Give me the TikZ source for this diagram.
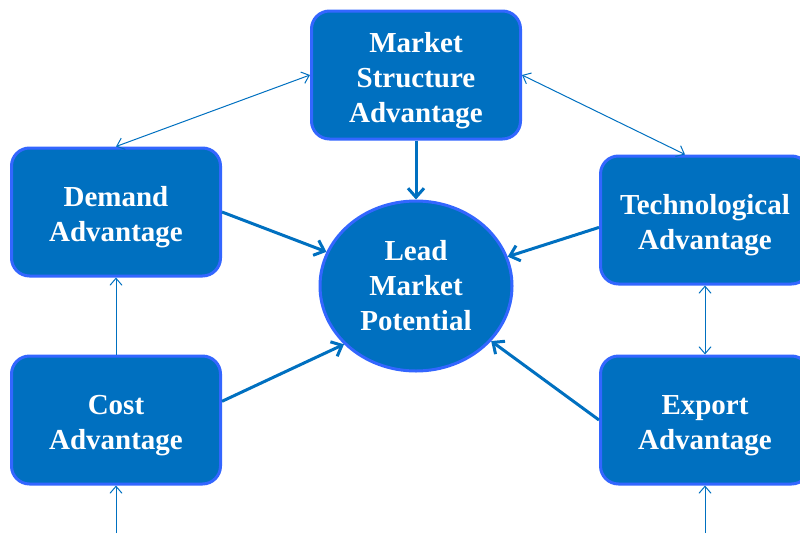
\documentclass[tikz,border=0pt]{standalone}
\usepackage{fontspec}
\setmainfont{Liberation Serif}
\usetikzlibrary{shapes.geometric, arrows.meta}

\definecolor{caja}{HTML}{0070C0}
\definecolor{borde}{HTML}{3366FF}
\newcommand{\sube}{\rule{0pt}{31pt}}

\begin{document}
\begin{tikzpicture}[x=1pt, y=-1pt,
		base/.style={draw=borde, fill=caja, line width=3pt, align=center, text=white,
			font=\fontsize{29}{35}\selectfont\bfseries},
		ventaja/.style={base, rounded corners=18pt, minimum width=209pt, minimum height=128pt},
		potencial/.style={base, ellipse, minimum width=192pt, minimum height=170pt},
		fina/.style={draw=caja, line width=1pt},
		gruesa/.style={draw=caja, line width=3pt, -{Straight Barb[length=9pt, width=16pt]}}]
		\useasboundingbox (0, 0) rectangle (800, 533);
		
		% Nodos
		\node[ventaja] (market) at (416, 75) {\sube Market\\Structure\\Advantage};
		\node[ventaja] (demand) at (116, 212) {\sube Demand\\Advantage};
		\node[ventaja] (cost) at (116, 420) {\sube Cost\\Advantage};
		\node[ventaja] (tech) at (705, 220) {\sube Technological\\Advantage};
		\node[ventaja] (export) at (705, 420) {\sube Export\\Advantage};
		\node[potencial] (lead) at (416, 286) {Lead\\Market\\Potential};
		\coordinate (costin) at (116, 533);
		\coordinate (exportin) at (705, 533);
		
		% Flechas finas
		\draw[fina, {Straight Barb[length=7pt, width=12pt]}-{Straight Barb[length=7pt, width=12pt]}] (demand.north) -- (market.west);
		\draw[fina, {Straight Barb[length=7pt, width=12pt]}-{Straight Barb[length=7pt, width=12pt]}] (market.east) -- ([xshift=-20pt]tech.north);
		\draw[fina, {Straight Barb[length=7pt, width=12pt]}-{Straight Barb[length=7pt, width=12pt]}] (tech.south) -- (export.north);
		\draw[fina, -{Straight Barb[length=7pt, width=12pt]}] (cost.north) -- (demand.south);
		\draw[fina, -{Straight Barb[length=7pt, width=12pt]}] (costin) -- (cost.south);
		\draw[fina, -{Straight Barb[length=7pt, width=12pt]}] (exportin) -- (export.south);
		
		% Flechas gruesas
		\draw[gruesa] (market.south) -- (lead.north);
		\draw[gruesa] (demand.east) -- (lead);
		\draw[gruesa] (cost.10) -- (lead.219);
		\draw[gruesa] (tech.184) -- (lead);
		\draw[gruesa] (export.west) -- (lead);
	\end{tikzpicture}
\end{document}
